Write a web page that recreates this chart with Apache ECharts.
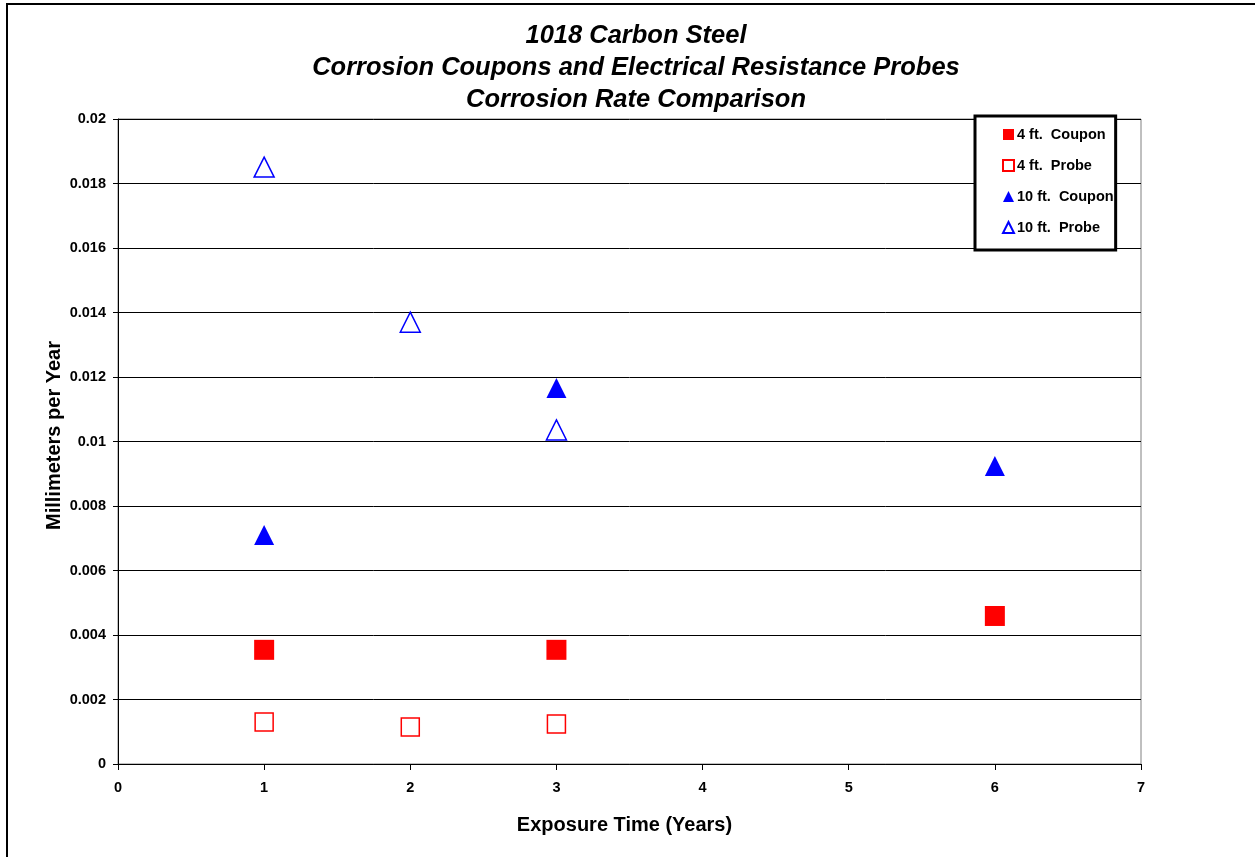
<!DOCTYPE html>
<html>
<head>
<meta charset="utf-8">
<title>1018 Carbon Steel Corrosion Rate Comparison</title>
<script src="https://cdn.jsdelivr.net/npm/echarts@6/dist/echarts.min.js"></script>
<style>
  html, body { margin: 0; padding: 0; background: #fff; }
  #chart { width: 1255px; height: 857px; }
</style>
</head>
<body>
<div id="chart"></div>
<script>
// exposure time (years) and corrosion rates (mm/yr)
var coupon4X = [1, 3, 6];
var coupon4Y = [0.00354, 0.00354, 0.00459];
var probe4X = [1, 2, 3];
var probe4Y = [0.0013, 0.00115, 0.00124];
var coupon10X = [1, 3, 6];
var coupon10Y = [0.0071, 0.01166, 0.00924];
var probe10X = [1, 2, 3];
var probe10Y = [0.01851, 0.0137, 0.01036];

var seriesNames = ['4 ft.  Coupon', '4 ft.  Probe', '10 ft.  Coupon', '10 ft.  Probe'];
var titleText = '1018 Carbon Steel\nCorrosion Coupons and Electrical Resistance Probes\nCorrosion Rate Comparison';

function pairs(xs, ys) {
  var out = [];
  for (var i = 0; i < xs.length; i++) out.push([xs[i], ys[i]]);
  return out;
}

var chart = echarts.init(document.getElementById('chart'), null, { renderer: 'canvas' });

var option = {
  backgroundColor: '#fff',
  animation: false,
  textStyle: { fontFamily: 'Liberation Sans, Arial, sans-serif' },
  graphic: [{
    // outer chart frame (only left/top visible in the picture)
    type: 'rect',
    shape: { x: 7, y: 4, width: 1300, height: 900 },
    style: { fill: 'none', stroke: '#000', lineWidth: 2 },
    z: -1
  }, {
    // three-line centred title
    type: 'text',
    x: 636,
    y: 20,
    style: {
      text: titleText,
      align: 'center',
      verticalAlign: 'top',
      font: 'italic bold 25.5px "Liberation Sans", Arial, sans-serif',
      lineHeight: 32,
      fill: '#000'
    }
  }],
  legend: {
    orient: 'vertical',
    left: 975,
    top: 116,
    data: [
      { name: seriesNames[0], icon: 'rect' },
      { name: seriesNames[1], icon: 'rect' },
      { name: seriesNames[2], icon: 'triangle' },
      { name: seriesNames[3], icon: 'triangle' }
    ],
    itemWidth: 11,
    itemHeight: 11,
    itemGap: 16,
    padding: [11, 2, 15, 27],
    borderColor: '#000',
    borderWidth: 3,
    backgroundColor: '#fff',
    textStyle: { fontSize: 14.5, fontWeight: 'bold', color: '#000', padding: [0, 0, 0, -2] }
  },
  grid: {
    left: 118,
    right: 114,
    top: 119,
    bottom: 93,
    show: true,
    borderColor: '#808080',
    borderWidth: 1
  },
  xAxis: {
    type: 'value',
    min: 0,
    max: 7,
    interval: 1,
    name: 'Exposure Time (Years)',
    nameLocation: 'middle',
    nameGap: 51,
    nameTextStyle: { fontSize: 20, fontWeight: 'bold', color: '#000', padding: [0, 10, 0, 0] },
    axisLine: { show: true, lineStyle: { color: '#000', width: 1 } },
    axisTick: { show: true, inside: false, length: 6, lineStyle: { color: '#000' } },
    axisLabel: { fontSize: 14.5, fontWeight: 'bold', color: '#000', margin: 16 },
    splitLine: { show: false }
  },
  yAxis: {
    type: 'value',
    min: 0,
    max: 0.02,
    interval: 0.002,
    name: 'Millimeters per Year',
    nameLocation: 'middle',
    nameGap: 54,
    nameMoveOverlap: false,
    nameTextStyle: { fontSize: 20, fontWeight: 'bold', color: '#000', padding: [0, 0, 0, 12] },
    axisLine: { show: true, lineStyle: { color: '#000', width: 1 } },
    axisTick: { show: true, inside: false, length: 5, lineStyle: { color: '#000' } },
    axisLabel: {
      fontSize: 14.5, fontWeight: 'bold', color: '#000', margin: 12,
      formatter: function (v) { return String(parseFloat(v.toFixed(4))); }
    },
    splitLine: { show: true, lineStyle: { color: '#000', width: 1 } }
  },
  series: [{
    name: seriesNames[0],
    type: 'scatter',
    symbol: 'rect',
    symbolSize: 20,
    itemStyle: { color: '#ff0000', opacity: 1 },
    data: pairs(coupon4X, coupon4Y)
  }, {
    name: seriesNames[1],
    type: 'scatter',
    symbol: 'rect',
    symbolSize: 18,
    itemStyle: { color: '#fff', borderColor: '#ff0000', borderWidth: 1.5, opacity: 1 },
    data: pairs(probe4X, probe4Y)
  }, {
    name: seriesNames[2],
    type: 'scatter',
    symbol: 'triangle',
    symbolSize: 20,
    itemStyle: { color: '#0000ff', opacity: 1 },
    data: pairs(coupon10X, coupon10Y)
  }, {
    name: seriesNames[3],
    type: 'scatter',
    symbol: 'triangle',
    symbolSize: 20,
    itemStyle: { color: '#fff', borderColor: '#0000ff', borderWidth: 1.5, opacity: 1 },
    data: pairs(probe10X, probe10Y)
  }]
};

chart.setOption(option);
</script>
</body>
</html>
